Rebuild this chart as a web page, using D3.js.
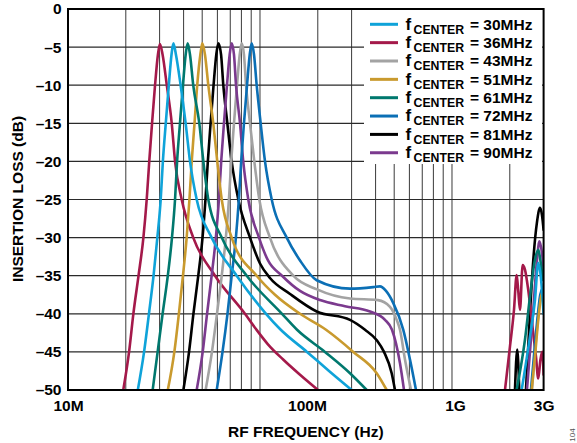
<!DOCTYPE html>
<html>
<head>
<meta charset="utf-8">
<script src="https://cdn.jsdelivr.net/npm/d3@7"></script>
<style>
  html, body { margin: 0; padding: 0; background: #fff; }
  svg { display: block; }
  text { font-family: "Liberation Sans", Arial, Helvetica, sans-serif; font-weight: bold; }
</style>
</head>
<body>
<svg id="chart" width="577" height="443"></svg>
<script>
// Filter responses: [frequency in MHz, insertion loss in dB]; null splits the passband from the high-frequency spurs.
const traceCrimson = [[19.4,-50],[20.8,-45],[21.9,-40],[23.3,-35],[24.7,-30],[25.7,-25],[26.5,-20],[27.4,-15],[28.4,-10],[29.4,-6],[30.1,-4.6],[31.1,-6],[32.7,-10],[34.7,-15],[36.1,-20],[39.1,-25],[44.9,-30],[58.3,-35],[83.5,-40],[95.3,-42],[110,-44],[132,-46],[161.6,-48],[200.5,-50],
  null,[1888,-50],[2004,-44.3],[2103,-39.5],[2172,-34.9],[2214,-37],[2259,-39.5],[2334,-33.6],[2399,-34.2],[2496,-36.9],[2600,-40.8],[2737,-45.6],[2814,-48.5],[2889,-46],[2952,-45],[3000,-48]];
const traceCyan = [[23.1,-50],[24.9,-45],[26.4,-40],[27.9,-35],[29.2,-30],[30.4,-25],[31.2,-20],[32.3,-15],[33.5,-10],[34.6,-6],[35.4,-4.5],[36.5,-6],[38.6,-10],[41.0,-15],[43.2,-20],[46.8,-25],[56.0,-30],[75.6,-35],[107.5,-40],[127.1,-42],[175.7,-45],[228.8,-47.5],[300.3,-50],
  null,[2306,-50],[2547,-43],[2705,-38.2],[2814,-33.3],[2897,-35],[3000,-40]];
const traceTeal = [[27.6,-50],[29.3,-45],[31.1,-40],[33.1,-35],[34.8,-30],[36.1,-25],[37.0,-20],[38.3,-15],[39.7,-10],[41.0,-6],[42.0,-4.5],[43.2,-6],[44.9,-10],[48.3,-15],[50.7,-20],[53.8,-25],[63.2,-30],[85.3,-35],[130.2,-40],[155.9,-42.1],[218,-45],[294.3,-47.8],[359.5,-50],
  null,[2170,-50],[2399,-43.4],[2547,-37.8],[2705,-32.9],[2814,-31.6],[2872,-32.6],[2977,-35.6]];
const traceGold = [[33.1,-50],[35.8,-45],[37.8,-40],[39.7,-35],[41.5,-30],[42.9,-25],[44.1,-20],[45.6,-15],[47.1,-10],[48.9,-6],[50.1,-4.5],[51.7,-6],[53.8,-10],[57.1,-15],[59.9,-20],[63.2,-25],[71.2,-30],[96.1,-35],[119.7,-37.5],[161.6,-40],[220.7,-42.1],[306.1,-45],[405.3,-47.8],[457,-50],
  null,[2600,-50],[2705,-45.6],[2814,-40.8],[2907,-37.8],[3000,-36.9]];
const traceBlack = [[39.9,-50],[42.7,-45],[45.0,-40],[47.7,-35],[50.2,-30],[52.0,-25],[53.5,-20],[55.3,-15],[57.3,-10],[59.2,-6],[60.7,-4.5],[62.7,-6],[64.4,-10],[67.6,-15],[71.2,-20],[77.1,-25],[88.7,-30],[100,-33.4],[112.7,-35.3],[143.4,-37.4],[197.4,-39.7],[294.3,-40.8],[352.3,-42.1],[406.8,-43.5],[442.4,-45],[485.2,-47.8],[504.8,-50],
  null,[2128,-50],[2187,-44.7],[2240,-50],
  null,[2428,-50],[2547,-40],[2650,-33],[2770,-28],[2872,-26.1],[2941,-27],[3000,-29]];
const tracePurple = [[46.8,-50],[50.3,-45],[53.0,-40],[56.0,-35],[58.9,-30],[61.1,-25],[62.8,-20],[64.9,-15],[67.3,-10],[69.5,-6],[71.2,-4.5],[73.2,-6],[75.0,-10],[78.7,-15],[81.8,-20],[86.9,-25],[98.8,-30],[110.1,-33],[130.2,-35],[161.6,-37],[205.3,-38.2],[277.1,-39],[374,-39.7],[447.7,-40.8],[487,-42.1],[536,-46.5],[562.3,-50],
  null,[2457,-50],[2641,-40],[2770,-33],[2854,-30.5],[2941,-32],[3000,-34]];
const traceGrey = [[52.1,-50],[56.2,-45],[59.7,-40],[63.2,-35],[66.4,-30],[68.9,-25],[70.8,-20],[73.2,-15],[75.9,-10],[78.4,-6],[80.3,-4.5],[82.5,-6],[84.6,-10],[88.7,-15],[93.4,-20],[99.2,-25],[112.7,-30],[149.1,-35],[198.1,-36.8],[294.3,-38],[411.7,-38.2],[475.5,-39.1],[515.2,-40.8],[536,-42.1],[569,-46],[611.6,-50],
  null,[2609,-50],[2770,-42],[2882,-38],[3000,-36]];
const traceBlue = [[59.5,-50],[63.8,-45],[67.7,-40],[71.2,-35],[74.9,-30],[77.6,-25],[79.8,-20],[82.5,-15],[85.6,-10],[88.4,-6],[90.5,-4.5],[93.1,-6],[96.1,-10],[100.8,-15],[106.2,-20],[115.1,-25],[137.8,-30],[161.6,-33],[197.4,-35.6],[294.3,-36.7],[389.1,-36.5],[421.7,-36.4],[453.2,-37],[494.7,-38.6],[557.6,-42.1],[604.2,-46],[649.4,-50],
  null,[2578,-50],[2705,-44],[2803,-40],[2882,-37.5],[3000,-36.5]];

const legendLabels = ["30MHz", "36MHz", "43MHz", "51MHz", "61MHz", "72MHz", "81MHz", "90MHz"];
const legendColors = ["#0fa3d9", "#a4194a", "#a3a3a3", "#c99a2e", "#00786e", "#0b6fb5", "#000000", "#7b3a8e"];

const xTickValues = [1e7, 1e8, 1e9, 3e9];
const xTickLabels = ["10M", "100M", "1G", "3G"];
const yTickValues = [0, -5, -10, -15, -20, -25, -30, -35, -40, -45, -50];

// Traces in drawing order
const traces = [
  { data: traceBlack,   color: "#000000" },
  { data: traceCrimson, color: "#a4194a" },
  { data: traceGrey,    color: "#a3a3a3" },
  { data: tracePurple,  color: "#7b3a8e" },
  { data: traceBlue,    color: "#0b6fb5" },
  { data: traceGold,    color: "#c99a2e" },
  { data: traceTeal,    color: "#00786e" },
  { data: traceCyan,    color: "#0fa3d9" }
];

const plotLeft = 68, plotRight = 543.6, plotTop = 9, plotBottom = 390;
const svg = d3.select("#chart");

const x = d3.scaleLog().domain([1e7, 3e9]).range([plotLeft, plotRight]);
const y = d3.scaleLinear().domain([-50, 0]).range([plotBottom, plotTop]);

// Grid
const grid = svg.append("g");
grid.selectAll("line.v")
  .data(x.ticks().filter(v => v > 1e7 && v < 3e9))
  .join("line")
  .attr("x1", d => x(d)).attr("x2", d => x(d))
  .attr("y1", plotTop).attr("y2", plotBottom)
  .attr("stroke", "#3a3a3a").attr("stroke-width", 1);
grid.selectAll("line.h")
  .data(yTickValues.filter(v => v > -50 && v < 0))
  .join("line")
  .attr("x1", plotLeft).attr("x2", plotRight)
  .attr("y1", d => y(d)).attr("y2", d => y(d))
  .attr("stroke", "#2a2a2a").attr("stroke-width", 1.2);

// Traces
svg.append("clipPath").attr("id", "plot-clip")
  .append("rect").attr("x", plotLeft).attr("y", plotTop)
  .attr("width", plotRight - plotLeft).attr("height", plotBottom - plotTop);

const line = d3.line()
  .defined(d => d !== null)
  .x(d => x(d[0] * 1e6))
  .y(d => y(d[1]))
  .curve(d3.curveMonotoneX);

svg.append("g").attr("clip-path", "url(#plot-clip)")
  .selectAll("path")
  .data(traces)
  .join("path")
  .attr("d", d => line(d.data))
  .attr("fill", "none")
  .attr("stroke", d => d.color)
  .attr("stroke-width", 2.6)
  .attr("stroke-linejoin", "round")
  .attr("stroke-linecap", "round");

// Legend
const legend = svg.append("g");
legend.append("rect")
  .attr("x", 364).attr("y", plotTop).attr("width", 178).attr("height", 155)
  .attr("fill", "#fff");
const rows = legend.selectAll("g.row")
  .data(legendLabels)
  .join("g")
  .attr("transform", (d, i) => `translate(0,${24.3 + i * 18.35})`);
rows.append("line")
  .attr("x1", 370).attr("x2", 398).attr("y1", 0).attr("y2", 0)
  .attr("stroke", (d, i) => legendColors[i]).attr("stroke-width", 3);
rows.append("text")
  .attr("x", 405.5).attr("y", 5.2)
  .style("font-size", "17px")
  .text("f");
rows.append("text")
  .attr("x", 413.5).attr("y", 9.2)
  .style("font-size", "12.3px")
  .text("CENTER");
rows.append("text")
  .attr("x", 470).attr("y", 5.2)
  .style("font-size", "15.5px")
  .text(d => "= " + d);

// Frame
svg.append("rect")
  .attr("x", plotLeft).attr("y", plotTop)
  .attr("width", plotRight - plotLeft).attr("height", plotBottom - plotTop)
  .attr("fill", "none").attr("stroke", "#000").attr("stroke-width", 2);

// Axes
const labelNudge = { "100M": 47, "1G": 3 };
const xAxis = d3.axisBottom(x)
  .tickValues(xTickValues)
  .tickFormat((d, i) => xTickLabels[i])
  .tickSize(0).tickPadding(10);
const gx = svg.append("g").attr("transform", `translate(0,${plotBottom})`).call(xAxis);
gx.select(".domain").remove();
gx.selectAll("text")
  .attr("dx", function () { return labelNudge[this.textContent] || 0; })
  .style("font-size", "15.5px").attr("fill", "#000");

const yAxis = d3.axisLeft(y)
  .tickValues(yTickValues)
  .tickFormat(d => d === 0 ? "0" : "\u2013" + Math.abs(d))
  .tickSize(0).tickPadding(6.5);
const gy = svg.append("g").attr("transform", `translate(${plotLeft},0)`).call(yAxis);
gy.select(".domain").remove();
gy.selectAll("text").style("font-size", "15.5px").attr("fill", "#000");

// Axis titles
svg.append("text")
  .attr("x", (plotLeft + plotRight) / 2).attr("y", 437)
  .attr("text-anchor", "middle")
  .style("font-size", "15.5px")
  .text("RF FREQUENCY (Hz)");
svg.append("text")
  .attr("transform", "translate(22.5,199) rotate(-90)")
  .attr("text-anchor", "middle")
  .style("font-size", "15.5px")
  .text("INSERTION LOSS (dB)");

// Figure id
svg.append("text")
  .attr("transform", "translate(575,435) rotate(-90)")
  .attr("text-anchor", "middle")
  .style("font-size", "8px").style("font-weight", "normal")
  .attr("fill", "#555")
  .text("104");
</script>
</body>
</html>
